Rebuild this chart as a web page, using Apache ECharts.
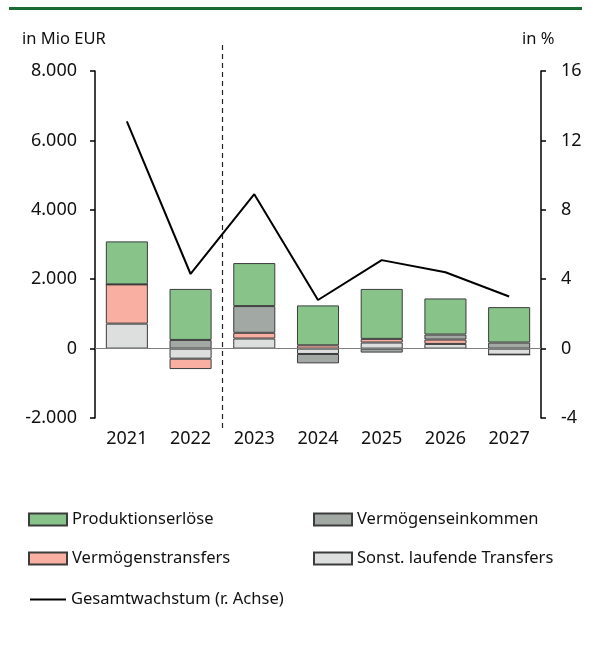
<!DOCTYPE html>
<html>
<head>
<meta charset="utf-8">
<script src="https://cdn.jsdelivr.net/npm/echarts@6/dist/echarts.min.js"></script>
<style>
  html, body { margin: 0; padding: 0; background: #fff; }
  #chart { width: 593px; height: 652px; }
</style>
</head>
<body>
<div id="chart"></div>
<script>
  var years = ['2021', '2022', '2023', '2024', '2025', '2026', '2027'];
  var produktion = [1240, 1470, 1240, 1150, 1440, 1040, 1020];
  var vermEinkommen = [0, 250, 770, -270, -115, 145, 175];
  var vermTransfers = [1130, -300, 165, 95, 105, 125, 0];
  var sonstTransfers = [720, -290, 290, -155, 175, 135, -175];
  var wachstum = [13.1, 4.3, 8.9, 2.8, 5.1, 4.4, 3.0];

  var font = 'Noto Sans';
  var border = '#3c3c3c';

  function bar(name, data, color) {
    return {
      name: name,
      type: 'bar',
      stack: 'a',
      data: data,
      barWidth: '66%',
      itemStyle: { color: color, borderColor: border, borderWidth: 1 }
    };
  }

  function legend(name, left, top, extra) {
    var l = {
      data: [name],
      left: left,
      top: top,
      padding: 0,
      itemWidth: 38,
      itemHeight: 12,
      icon: 'rect',
      selectedMode: false,
      textStyle: { fontFamily: font, fontSize: 16.5, color: '#111' }
    };
    return Object.assign(l, extra || {});
  }

  var chart = echarts.init(document.getElementById('chart'));
  var sonst = bar('Sonst. laufende Transfers', sonstTransfers, '#dcdfdd');
  sonst.markLine = {
    silent: true,
    symbol: ['none', 'none'],
    label: { show: false },
    lineStyle: { color: '#7f7f7f', type: 'solid', width: 1 },
    data: [{ yAxis: 0 }]
  };

  chart.setOption({
    animation: false,
    grid: { left: 95, right: 52, top: 71, bottom: 234 },
    legend: [
      legend('Produktionserlöse', 28, 511),
      legend('Vermögenseinkommen', 313, 511),
      legend('Vermögenstransfers', 28, 550),
      legend('Sonst. laufende Transfers', 313, 550),
      legend('Gesamtwachstum (r. Achse)', 30, 591, { itemWidth: 36, itemHeight: 2 })
    ],
    xAxis: {
      type: 'category',
      data: years,
      axisLine: { show: false },
      axisTick: { show: false },
      axisLabel: { fontFamily: font, fontSize: 18, color: '#111', margin: 12 }
    },
    yAxis: [
      {
        type: 'value',
        min: -2000, max: 8000, interval: 2000,
        splitLine: { show: false },
        axisLine: { show: true, lineStyle: { color: '#000', width: 1.5 } },
        axisTick: { show: true, length: 5, lineStyle: { color: '#000', width: 1.5 } },
        axisLabel: {
          fontFamily: font, fontSize: 18, color: '#111', margin: 18,
          formatter: function (v) { return v.toLocaleString('de-DE'); }
        }
      },
      {
        type: 'value',
        min: -4, max: 16, interval: 4,
        position: 'right',
        splitLine: { show: false },
        axisLine: { show: true, lineStyle: { color: '#000', width: 1.5 } },
        axisTick: { show: true, length: 5, lineStyle: { color: '#000', width: 1.5 } },
        axisLabel: { fontFamily: font, fontSize: 18, color: '#111', margin: 20 }
      }
    ],
    series: [
      sonst,
      bar('Vermögenstransfers', vermTransfers, '#f9afa2'),
      bar('Vermögenseinkommen', vermEinkommen, '#a2a9a4'),
      bar('Produktionserlöse', produktion, '#88c48a'),
      {
        name: 'Gesamtwachstum (r. Achse)',
        type: 'line',
        yAxisIndex: 1,
        data: wachstum,
        symbol: 'none',
        lineStyle: { color: '#000', width: 2 },
        itemStyle: { color: '#000' }
      }
    ]
  });

  // Trennlinie zwischen Ist und Prognose
  var xa = chart.convertToPixel({ xAxisIndex: 0 }, years[1]);
  var xb = chart.convertToPixel({ xAxisIndex: 0 }, years[2]);
  var xm = Math.round((xa + xb) / 2) + 0.5;

  chart.setOption({
    graphic: [
      { type: 'rect', shape: { x: 9, y: 7, width: 573, height: 3 }, style: { fill: '#1a6b34' } },
      { type: 'text', left: 22, top: 31, style: { text: 'in Mio EUR', font: '16.5px "Noto Sans"', fill: '#111' } },
      { type: 'text', left: 522, top: 31, style: { text: 'in %', font: '16.5px "Noto Sans"', fill: '#111' } },
      {
        type: 'line',
        shape: { x1: xm, y1: 45, x2: xm, y2: 429 },
        style: { stroke: '#222', lineWidth: 1.2, lineDash: [5, 4] }
      }
    ]
  });
</script>
</body>
</html>
